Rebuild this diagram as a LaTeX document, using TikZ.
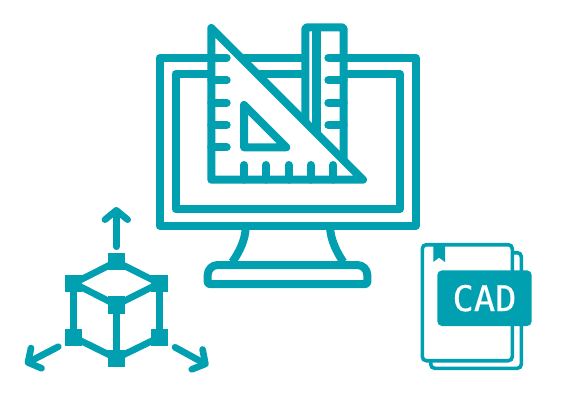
\documentclass[tikz,border=0pt]{standalone}
\usepackage{fontspec}
\newfontfamily\cadfont[FakeBold=0.5]{DejaVu Sans Mono}
\usetikzlibrary{arrows.meta}
\definecolor{teal1}{HTML}{00A0B0}
\begin{document}
\begin{tikzpicture}[x=0.75pt,y=-0.75pt,
  mon/.style={draw=teal1,line width=6pt,line join=round},
  tool/.style={draw=teal1,fill=white,line width=6pt,line join=round},
  tick/.style={draw=teal1,line width=6pt,line cap=round},
  vertex/.style={draw=none,fill=teal1,minimum size=13pt,inner sep=0pt},
  edgeline/.style={draw=teal1,line width=5pt},
  axis/.style={draw=teal1,line width=5pt,line cap=round,line join=round,-{Straight Barb[round,length=7pt,width=17pt,line width=5pt]}},
  page/.style={draw=teal1,line width=2.7pt,rounded corners=3pt}]
\useasboundingbox (0,0) rectangle (566,420);

% monitor
\draw[mon] (159.5,57.7) rectangle (415.7,225.7);
\draw[mon] (175.5,74) rectangle (400,209);
\draw[mon] (245.7,228) .. controls (245,240) and (240,251) .. (232.3,262);
\draw[mon] (330,228) .. controls (331,240) and (336,251) .. (343.3,262);
\draw[mon] (207.7,284) [rounded corners=7.5pt] -- (207.7,265) -- (367.3,265) [rounded corners=1.5pt] -- (367.3,284) -- cycle;

% ruler
\draw[tool,rounded corners=1.5pt] (305.3,172) -- (305.3,27.3) -- (343.7,27.3) -- (343.7,172);
\draw[mon,line width=6.6pt] (316.5,27.3) -- (316.5,150);
\draw[tick] (343.7,57.7) -- (328.3,57.7);
\draw[tick] (343.7,80.3) -- (328.3,80.3);
\draw[tick] (343.7,102.7) -- (328.3,102.7);
\draw[tick] (343.7,125) -- (328.3,125);

% set square
\draw[tool] (211.3,28) -- (363,179.7) -- (211.3,179.7) -- cycle;
\draw[mon] (244,105) -- (286.3,147.3) -- (244,147.3) -- cycle;
\foreach \y in {57.7,80.3,102.7,125,147.3}
  \draw[tick] (211.3,\y) -- (226.7,\y);
\foreach \x in {244,266,288.7,310.7,333.3}
  \draw[tick] (\x,179.7) -- (\x,165);

% cube
\node[vertex] (top) at (116.3,261.7) {};
\node[vertex] (lt) at (73.7,283.3) {};
\node[vertex] (rt) at (159.3,283.3) {};
\node[vertex] (mid) at (116.3,305) {};
\node[vertex] (lb) at (73.7,337.3) {};
\node[vertex] (rb) at (159.3,337.3) {};
\node[vertex] (bot) at (116.3,358.3) {};

\path[edgeline] (top.center) -- (lt.center);
\path[edgeline] (top.center) -- (rt.center);
\path[edgeline] (lt.center) -- (mid.center);
\path[edgeline] (rt.center) -- (mid.center);
\path[edgeline] (lt.center) -- (lb.center);
\path[edgeline] (rt.center) -- (rb.center);
\path[edgeline] (mid.center) -- (bot.center);
\path[edgeline] (lb.center) -- (bot.center);
\path[edgeline] (rb.center) -- (bot.center);

\coordinate (upS) at (116.3,246.7);
\coordinate (upE) at (116.3,207);
\coordinate (leftS) at (58.3,346.7);
\coordinate (leftE) at (25,364);
\coordinate (rightS) at (175,347.3);
\coordinate (rightE) at (208.3,365.5);
\path[axis] (upS) -- (upE);
\path[axis] (leftS) -- (leftE);
\path[axis] (rightS) -- (rightE);

% book
\draw[page] (512.3,252.7) -- (521.3,252.7) -- (521.3,368.3) -- (430.7,368.3) -- (430.7,360.7);
\draw[page,fill=white] (422.3,244.7) rectangle (512.3,360.7);
\fill[teal1] (433.3,245) -- (445,245) -- (445,262) -- (439,257.7) -- (433.3,262) -- cycle;
\node[fill=teal1,rounded corners=3.5pt,minimum width=70.8pt,minimum height=41.7pt,inner sep=0pt,
  text=white,font=\cadfont\fontsize{26.5}{26.5}\selectfont] (cad) at (484.5,298.2) {CAD};
\end{tikzpicture}
\end{document}
